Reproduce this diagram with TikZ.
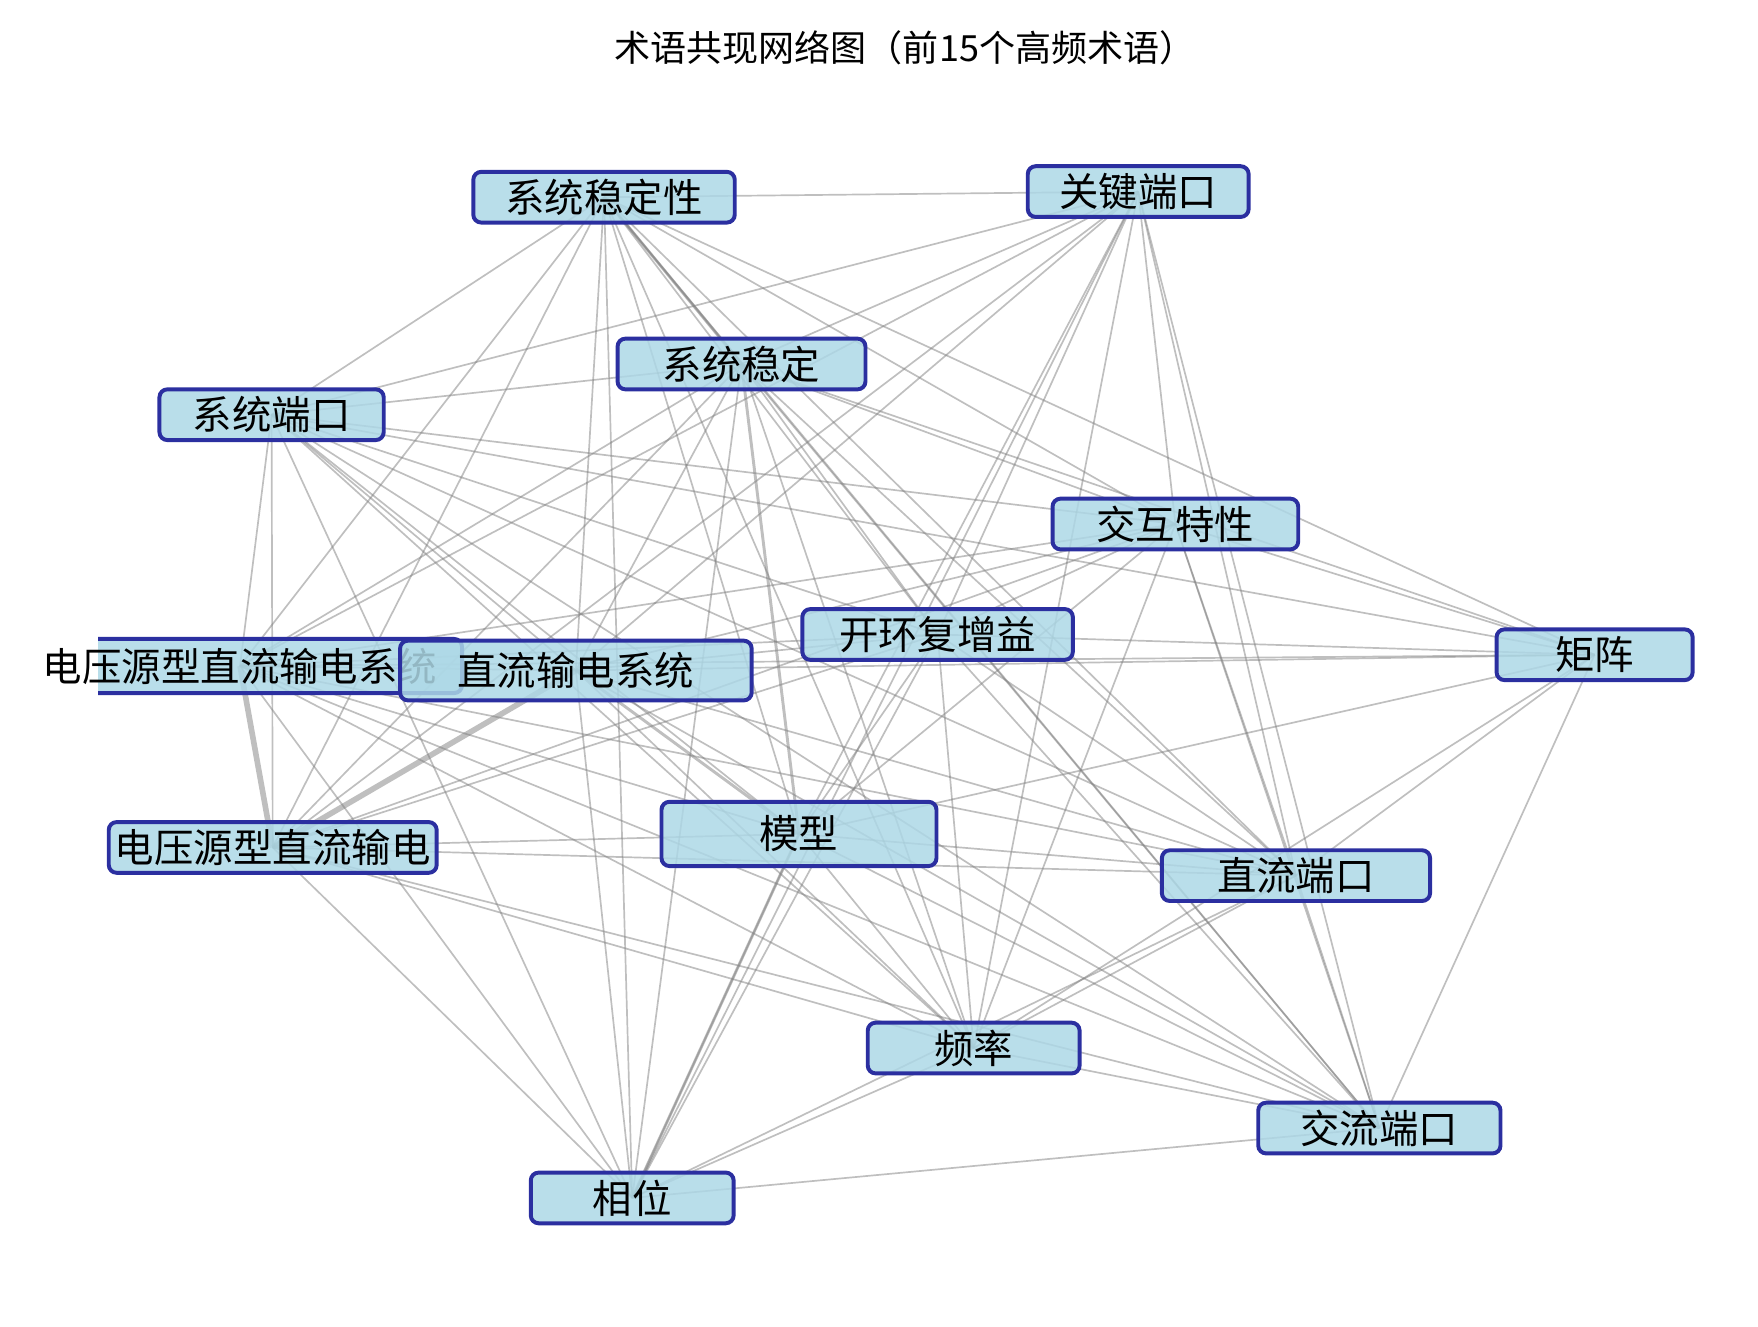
\documentclass[tikz,border=0pt]{standalone}
\usepackage{fontspec}
\setmainfont{Noto Sans CJK SC}
\usetikzlibrary{positioning}
\definecolor{boxfill}{HTML}{ADD8E6}
\definecolor{boxline}{HTML}{2B2FA0}
\tikzset{term/.style={rectangle, rounded corners=7pt, draw=boxline, line width=3.5pt,
                      fill=boxfill, fill opacity=0.85, text opacity=1,
                      minimum height=45pt, inner sep=0pt, font=\fontsize{35}{37}\selectfont},
         link/.style={draw=gray, opacity=0.5, line width=1.5pt},
         heavy/.style={link, line width=5pt},
         mid/.style={link, line width=2.6pt}}
\begin{document}
\begin{tikzpicture}[x=1pt, y=-1pt]
\useasboundingbox (0,0) rectangle (1560,1177);
\node[font=\fontsize{32}{34}\selectfont] (title) at (803,42) {术语共现网络图（前15个高频术语）};
% node positions
\coordinate (stab)  at (536,175);
\coordinate (key)   at (1010,170);
\coordinate (stb)   at (658,323);
\coordinate (sysp)  at (241,368);
\coordinate (inter) at (1043,465);
\coordinate (gain)  at (832,563);
\coordinate (mat)   at (1415,581);
\coordinate (vsc)   at (213,591);
\coordinate (hvdc)  at (511,595);
\coordinate (vsh)   at (242,752);
\coordinate (model) at (709,740);
\coordinate (dcp)   at (1150,777);
\coordinate (freq)  at (864,930);
\coordinate (acp)   at (1224,1001);
\coordinate (phase) at (561,1063);
% links
\foreach \a/\b in {stab/key, stab/stb, stab/sysp, stab/inter, stab/gain, stab/mat, stab/vsc, stab/hvdc,
    stab/vsh, stab/model, stab/dcp, stab/freq, stab/acp, stab/phase,
    key/stb, key/sysp, key/inter, key/gain, key/vsc, key/hvdc, key/vsh, key/model,
    key/dcp, key/freq, key/acp, key/phase,
    stb/sysp, stb/inter, stb/gain, stb/mat, stb/vsc, stb/hvdc, stb/vsh, stb/dcp, stb/freq, stb/acp, stb/phase,
    sysp/inter, sysp/gain, sysp/mat, sysp/vsc, sysp/hvdc, sysp/vsh, sysp/model, sysp/dcp, sysp/freq, sysp/acp, sysp/phase,
    inter/gain, inter/mat, inter/vsc, inter/hvdc, inter/vsh, inter/model, inter/dcp, inter/freq, inter/acp,
    gain/mat, gain/vsc, gain/hvdc, gain/vsh, gain/model, gain/dcp, gain/freq, gain/acp, gain/phase,
    mat/vsc, mat/hvdc, mat/model, mat/dcp, mat/freq, mat/acp,
    vsc/hvdc, vsc/model, vsc/dcp, vsc/freq, vsc/acp, vsc/phase,
    hvdc/dcp, hvdc/freq, hvdc/acp, hvdc/phase,
    vsh/model, vsh/dcp, vsh/freq, vsh/acp, vsh/phase,
    model/dcp, model/freq, model/acp, model/phase,
    dcp/freq, dcp/acp, dcp/phase, freq/acp, freq/phase, acp/phase}
  \draw[link] (\a) -- (\b);
\draw[heavy] (vsc) -- (vsh);
\draw[heavy] (hvdc) -- (vsh);
\draw[mid] (hvdc) -- (model);
\draw[mid] (stb) -- (model);
\draw[mid] (stab) -- (stb);
\draw[mid] (model) -- (phase);
% boxes
\begin{scope}
  \clip (87,0) rectangle (1560,1177);
  \node[term, minimum width=360pt, minimum height=48pt] (vscbox) at (230,591) {};
\end{scope}
\node[font=\fontsize{35}{37}\selectfont] (vsctext) at (vsc) {电压源型直流输电系统};
\node[term, minimum width=232pt] (stabbox)  at (stab)  {系统稳定性};
\node[term, minimum width=196pt] (keybox)   at (key)   {关键端口};
\node[term, minimum width=220pt] (stbbox)   at (stb)   {系统稳定};
\node[term, minimum width=199pt] (syspbox)  at (sysp)  {系统端口};
\node[term, minimum width=218pt] (interbox) at (inter) {交互特性};
\node[term, minimum width=240pt] (gainbox)  at (gain)  {开环复增益};
\node[term, minimum width=174pt] (matbox)   at (mat)   {矩阵};
\node[term, minimum width=312pt, minimum height=53pt] (hvdcbox) at (hvdc) {直流输电系统};
\node[term, minimum width=291pt] (vshbox)   at (vsh)   {电压源型直流输电};
\node[term, minimum width=244pt, minimum height=57pt] (modelbox) at (model) {模型};
\node[term, minimum width=238pt] (dcpbox)   at (dcp)   {直流端口};
\node[term, minimum width=188pt] (freqbox)  at (freq)  {频率};
\node[term, minimum width=215pt] (acpbox)   at (acp)   {交流端口};
\node[term, minimum width=180pt] (phasebox) at (phase) {相位};
\end{tikzpicture}
\end{document}
